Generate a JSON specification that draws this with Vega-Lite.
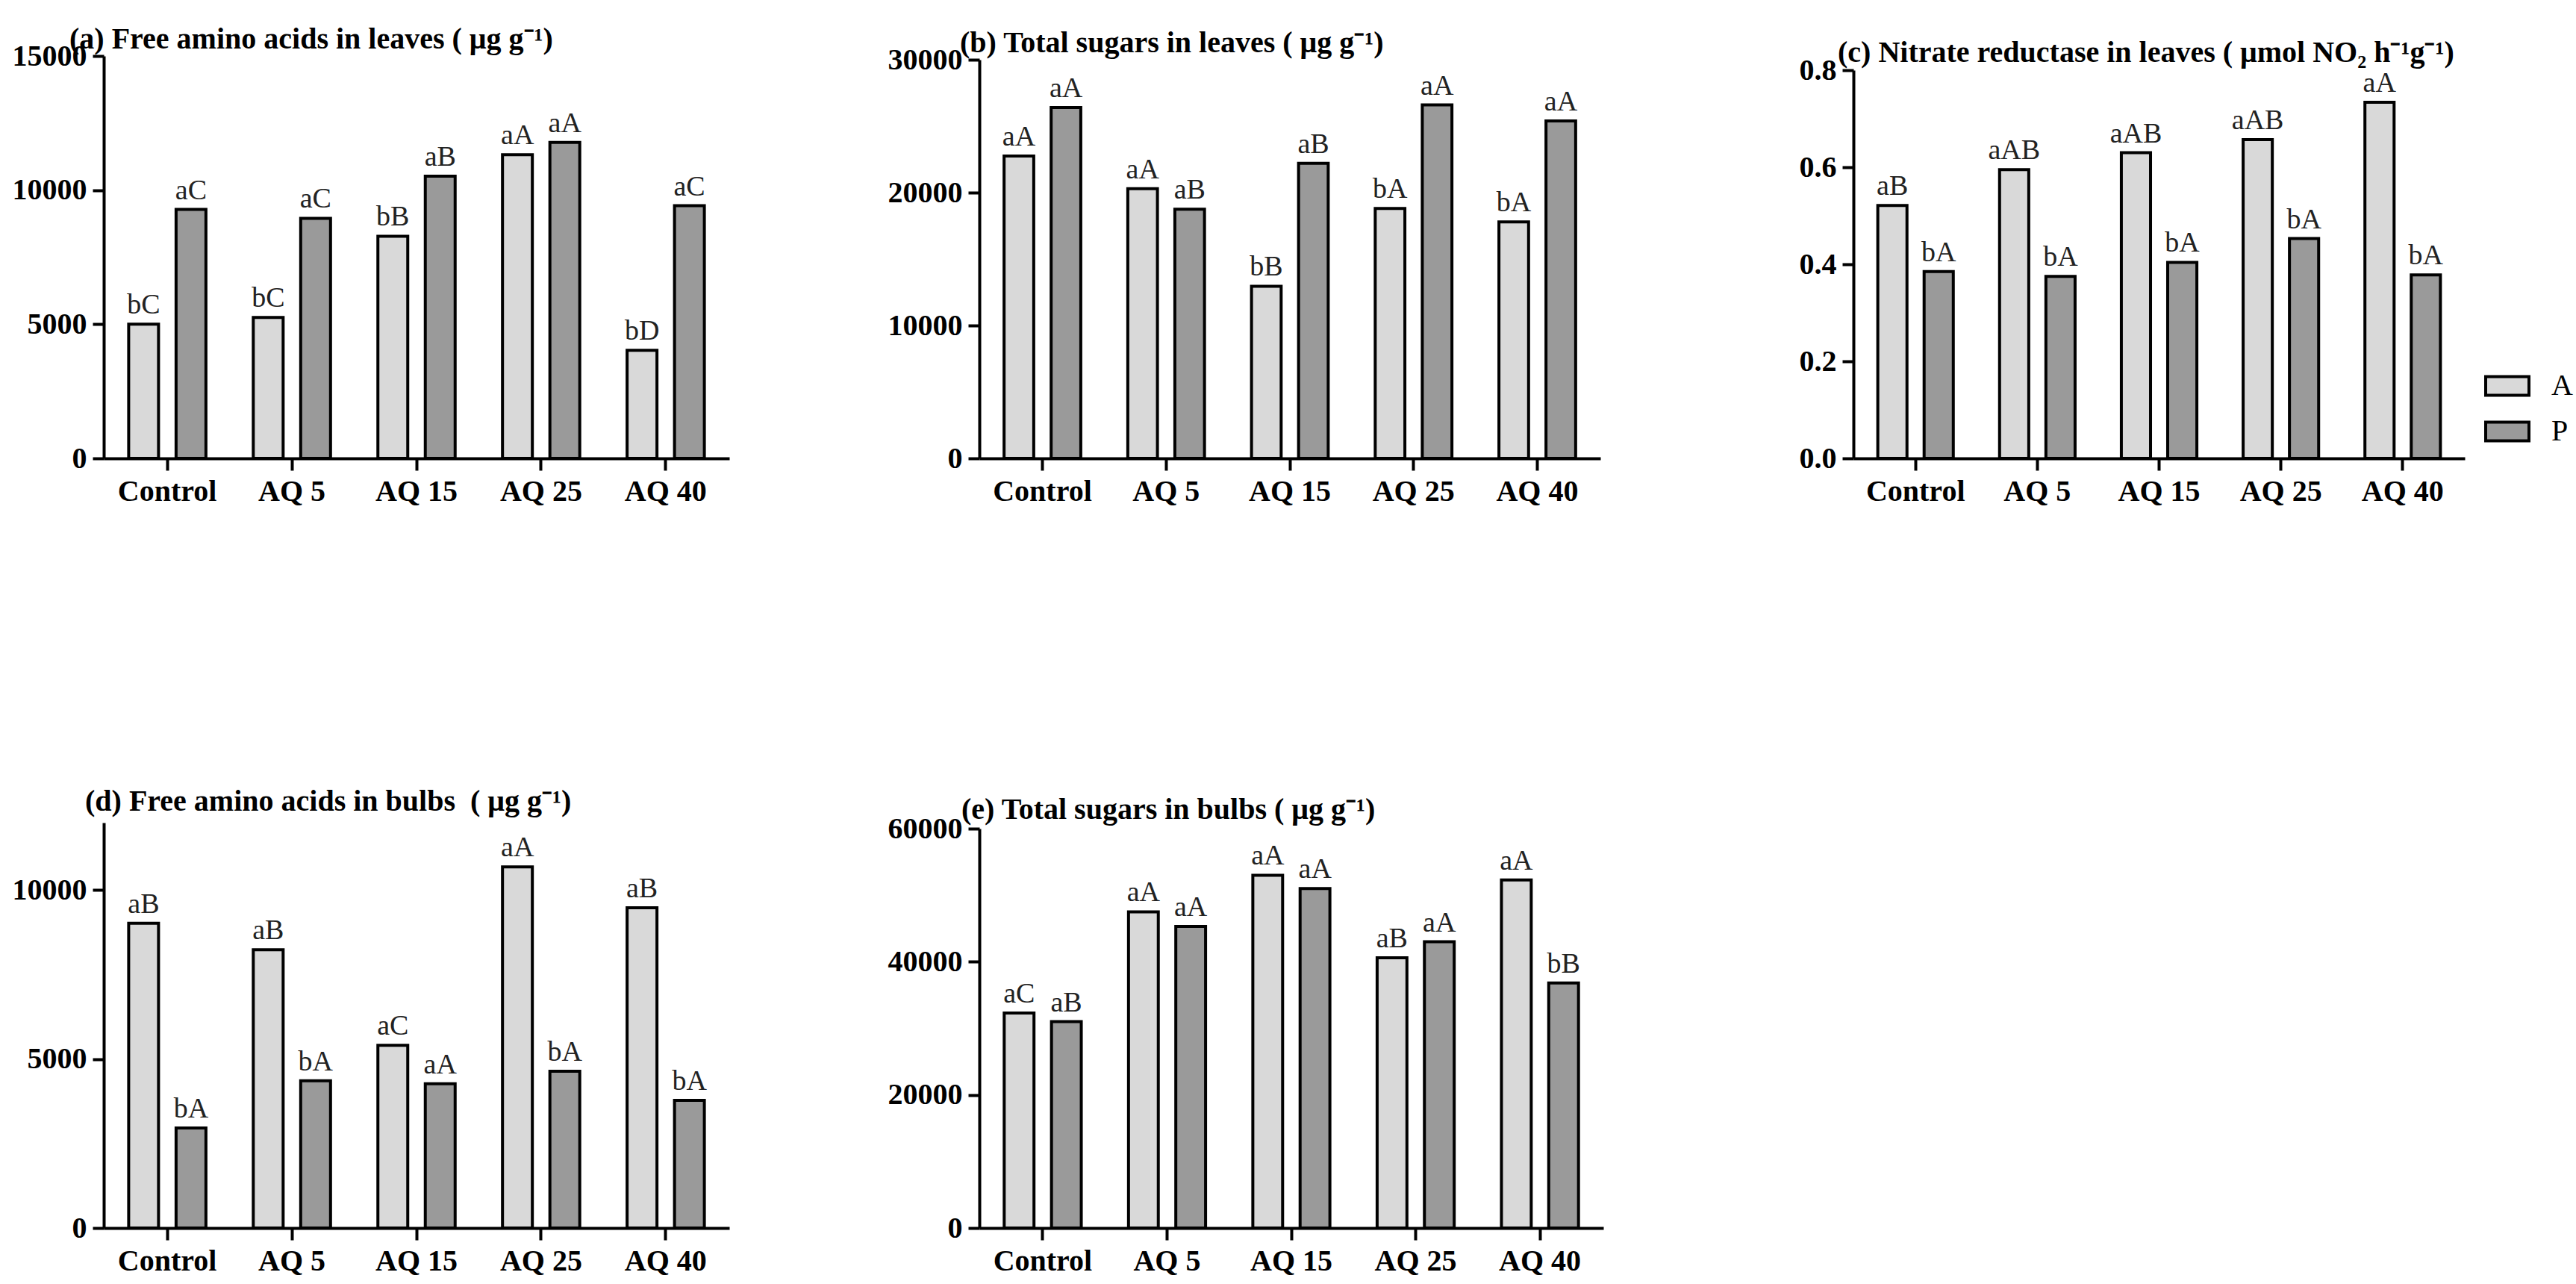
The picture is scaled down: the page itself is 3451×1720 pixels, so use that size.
{
  "$schema": "https://vega.github.io/schema/vega-lite/v6.json",
  "background": "white",
  "padding": {"left": 16, "top": 33, "right": 5, "bottom": 0},
  "autosize": {"type": "pad"},
  "bounds": "flush",
  "align": "each",
  "columns": 3,
  "spacing": {"row": 488, "column": 335},
  "config": {
    "view": {"stroke": null},
    "font": "Liberation Serif",
    "title": {"font": "Liberation Serif", "fontSize": 40, "fontWeight": "bold", "anchor": "start", "frame": "group", "baseline": "alphabetic", "color": "black"},
    "axis": {"domainColor": "black", "domainWidth": 4, "tickColor": "black", "tickWidth": 4, "tickSize": 15, "labelFont": "Liberation Serif", "labelFontSize": 40, "labelFontWeight": "bold", "labelColor": "black", "grid": false, "labelPadding": 8, "labelOverlap": false, "labelBound": false, "title": null},
    "axisX": {"labelAngle": 0, "tickSize": 16},
    "bar": {"stroke": "black", "strokeWidth": 4},
    "text": {"font": "Liberation Serif", "fontSize": 38, "color": "#222", "baseline": "alphabetic", "dy": -14}
  },
  "datasets": {
    "d": [
      {"panel": "a", "treatment": "Control", "group": "A", "value": 5000, "label": "bC"},
      {"panel": "a", "treatment": "Control", "group": "P", "value": 9280, "label": "aC"},
      {"panel": "a", "treatment": "AQ 5", "group": "A", "value": 5250, "label": "bC"},
      {"panel": "a", "treatment": "AQ 5", "group": "P", "value": 8950, "label": "aC"},
      {"panel": "a", "treatment": "AQ 15", "group": "A", "value": 8280, "label": "bB"},
      {"panel": "a", "treatment": "AQ 15", "group": "P", "value": 10520, "label": "aB"},
      {"panel": "a", "treatment": "AQ 25", "group": "A", "value": 11320, "label": "aA"},
      {"panel": "a", "treatment": "AQ 25", "group": "P", "value": 11780, "label": "aA"},
      {"panel": "a", "treatment": "AQ 40", "group": "A", "value": 4030, "label": "bD"},
      {"panel": "a", "treatment": "AQ 40", "group": "P", "value": 9420, "label": "aC"},

      {"panel": "b", "treatment": "Control", "group": "A", "value": 22750, "label": "aA"},
      {"panel": "b", "treatment": "Control", "group": "P", "value": 26400, "label": "aA"},
      {"panel": "b", "treatment": "AQ 5", "group": "A", "value": 20300, "label": "aA"},
      {"panel": "b", "treatment": "AQ 5", "group": "P", "value": 18750, "label": "aB"},
      {"panel": "b", "treatment": "AQ 15", "group": "A", "value": 12950, "label": "bB"},
      {"panel": "b", "treatment": "AQ 15", "group": "P", "value": 22200, "label": "aB"},
      {"panel": "b", "treatment": "AQ 25", "group": "A", "value": 18800, "label": "bA"},
      {"panel": "b", "treatment": "AQ 25", "group": "P", "value": 26600, "label": "aA"},
      {"panel": "b", "treatment": "AQ 40", "group": "A", "value": 17800, "label": "bA"},
      {"panel": "b", "treatment": "AQ 40", "group": "P", "value": 25400, "label": "aA"},

      {"panel": "c", "treatment": "Control", "group": "A", "value": 0.521, "label": "aB"},
      {"panel": "c", "treatment": "Control", "group": "P", "value": 0.385, "label": "bA"},
      {"panel": "c", "treatment": "AQ 5", "group": "A", "value": 0.595, "label": "aAB"},
      {"panel": "c", "treatment": "AQ 5", "group": "P", "value": 0.375, "label": "bA"},
      {"panel": "c", "treatment": "AQ 15", "group": "A", "value": 0.630, "label": "aAB"},
      {"panel": "c", "treatment": "AQ 15", "group": "P", "value": 0.404, "label": "bA"},
      {"panel": "c", "treatment": "AQ 25", "group": "A", "value": 0.657, "label": "aAB"},
      {"panel": "c", "treatment": "AQ 25", "group": "P", "value": 0.453, "label": "bA"},
      {"panel": "c", "treatment": "AQ 40", "group": "A", "value": 0.734, "label": "aA"},
      {"panel": "c", "treatment": "AQ 40", "group": "P", "value": 0.378, "label": "bA"},

      {"panel": "d", "treatment": "Control", "group": "A", "value": 9020, "label": "aB"},
      {"panel": "d", "treatment": "Control", "group": "P", "value": 2960, "label": "bA"},
      {"panel": "d", "treatment": "AQ 5", "group": "A", "value": 8240, "label": "aB"},
      {"panel": "d", "treatment": "AQ 5", "group": "P", "value": 4360, "label": "bA"},
      {"panel": "d", "treatment": "AQ 15", "group": "A", "value": 5410, "label": "aC"},
      {"panel": "d", "treatment": "AQ 15", "group": "P", "value": 4270, "label": "aA"},
      {"panel": "d", "treatment": "AQ 25", "group": "A", "value": 10690, "label": "aA"},
      {"panel": "d", "treatment": "AQ 25", "group": "P", "value": 4640, "label": "bA"},
      {"panel": "d", "treatment": "AQ 40", "group": "A", "value": 9480, "label": "aB"},
      {"panel": "d", "treatment": "AQ 40", "group": "P", "value": 3780, "label": "bA"},

      {"panel": "e", "treatment": "Control", "group": "A", "value": 32300, "label": "aC"},
      {"panel": "e", "treatment": "Control", "group": "P", "value": 31000, "label": "aB"},
      {"panel": "e", "treatment": "AQ 5", "group": "A", "value": 47500, "label": "aA"},
      {"panel": "e", "treatment": "AQ 5", "group": "P", "value": 45300, "label": "aA"},
      {"panel": "e", "treatment": "AQ 15", "group": "A", "value": 53000, "label": "aA"},
      {"panel": "e", "treatment": "AQ 15", "group": "P", "value": 51000, "label": "aA"},
      {"panel": "e", "treatment": "AQ 25", "group": "A", "value": 40600, "label": "aB"},
      {"panel": "e", "treatment": "AQ 25", "group": "P", "value": 43000, "label": "aA"},
      {"panel": "e", "treatment": "AQ 40", "group": "A", "value": 52300, "label": "aA"},
      {"panel": "e", "treatment": "AQ 40", "group": "P", "value": 36800, "label": "bB"}
    ]
  },
  "resolve": {"scale": {"x": "independent", "y": "independent", "xOffset": "independent", "fill": "independent"}, "legend": {"fill": "independent"}, "axis": {"x": "independent", "y": "independent"}},
  "concat": [
    {
      "width": 838, "height": 539,
      "data": {"name": "d"},
      "title": {"text": "(a) Free amino acids in leaves ( μg g⁻¹)", "offset": -18, "dx": -46},
      "transform": [{"filter": "datum.panel == 'a'"}],
      "encoding": {
        "x": {"field": "treatment", "type": "nominal", "sort": ["Control", "AQ 5", "AQ 15", "AQ 25", "AQ 40"], "scale": {"paddingInner": 0.38, "paddingOuter": 0.2}},
        "xOffset": {"field": "group", "type": "nominal", "sort": ["A", "P"], "scale": {"paddingInner": 0.37, "paddingOuter": 0}},
        "y": {"field": "value", "type": "quantitative", "scale": {"domain": [0, 15000], "nice": false}, "axis": {"values": [0, 5000, 10000, 15000], "format": "d"}}
      },
      "layer": [
        {"mark": {"type": "bar"}, "encoding": {"fill": {"field": "group", "type": "nominal", "scale": {"domain": ["A", "P"], "range": ["#d9d9d9", "#9a9a9a"]}, "legend": null}}},
        {"mark": {"type": "text"}, "encoding": {"text": {"field": "label"}}}
      ]
    },
    {
      "width": 832, "height": 539,
      "data": {"name": "d"},
      "title": {"text": "(b) Total sugars in leaves ( μg g⁻¹)", "offset": -18, "dx": -26},
      "transform": [{"filter": "datum.panel == 'b'"}],
      "encoding": {
        "x": {"field": "treatment", "type": "nominal", "sort": ["Control", "AQ 5", "AQ 15", "AQ 25", "AQ 40"], "scale": {"paddingInner": 0.38, "paddingOuter": 0.2}},
        "xOffset": {"field": "group", "type": "nominal", "sort": ["A", "P"], "scale": {"paddingInner": 0.37, "paddingOuter": 0}},
        "y": {"field": "value", "type": "quantitative", "scale": {"domain": [0, 30000], "nice": false, "range": [539, 5]}, "axis": {"values": [0, 10000, 20000, 30000], "format": "d"}}
      },
      "layer": [
        {"mark": {"type": "bar"}, "encoding": {"fill": {"field": "group", "type": "nominal", "scale": {"domain": ["A", "P"], "range": ["#d9d9d9", "#9a9a9a"]}, "legend": null}}},
        {"mark": {"type": "text"}, "encoding": {"text": {"field": "label"}}}
      ]
    },
    {
      "width": 819, "height": 539,
      "data": {"name": "d"},
      "title": {"text": "(c) Nitrate reductase in leaves ( μmol NO₂ h⁻¹g⁻¹)", "offset": -17, "dx": -21},
      "transform": [{"filter": "datum.panel == 'c'"}],
      "encoding": {
        "x": {"field": "treatment", "type": "nominal", "sort": ["Control", "AQ 5", "AQ 15", "AQ 25", "AQ 40"], "scale": {"paddingInner": 0.38, "paddingOuter": 0.2}},
        "xOffset": {"field": "group", "type": "nominal", "sort": ["A", "P"], "scale": {"paddingInner": 0.37, "paddingOuter": 0}},
        "y": {"field": "value", "type": "quantitative", "scale": {"domain": [0, 0.8], "nice": false, "range": [539, 19]}, "axis": {"values": [0, 0.2, 0.4, 0.6, 0.8], "format": ".1f"}}
      },
      "layer": [
        {"mark": {"type": "bar"}, "encoding": {"fill": {"field": "group", "type": "nominal", "scale": {"domain": ["A", "P"], "range": ["#d9d9d9", "#9a9a9a"]}, "legend": {"title": null, "orient": "none", "legendX": 845, "legendY": 411, "padding": 0, "symbolType": "M-1,-0.43L1,-0.43L1,0.43L-1,0.43Z", "symbolSize": 3364, "symbolStrokeColor": "black", "symbolStrokeWidth": 4, "symbolOpacity": 1, "labelFont": "Liberation Serif", "labelFontSize": 40, "labelFontWeight": "normal", "labelColor": "black", "labelOffset": 28, "rowPadding": 9}}}},
        {"mark": {"type": "text"}, "encoding": {"text": {"field": "label"}}}
      ]
    },
    {
      "width": 838, "height": 543,
      "data": {"name": "d"},
      "title": {"text": "(d) Free amino acids in bulbs\u00a0 ( μg g⁻¹)", "offset": 8, "dx": -25},
      "transform": [{"filter": "datum.panel == 'd'"}],
      "encoding": {
        "x": {"field": "treatment", "type": "nominal", "sort": ["Control", "AQ 5", "AQ 15", "AQ 25", "AQ 40"], "scale": {"paddingInner": 0.38, "paddingOuter": 0.2}},
        "xOffset": {"field": "group", "type": "nominal", "sort": ["A", "P"], "scale": {"paddingInner": 0.37, "paddingOuter": 0}},
        "y": {"field": "value", "type": "quantitative", "scale": {"domain": [0, 12000], "nice": false}, "axis": {"values": [0, 5000, 10000], "format": "d"}}
      },
      "layer": [
        {"mark": {"type": "bar"}, "encoding": {"fill": {"field": "group", "type": "nominal", "scale": {"domain": ["A", "P"], "range": ["#d9d9d9", "#9a9a9a"]}, "legend": null}}},
        {"mark": {"type": "text"}, "encoding": {"text": {"field": "label"}}}
      ]
    },
    {
      "width": 836, "height": 543,
      "data": {"name": "d"},
      "title": {"text": "(e) Total sugars in bulbs ( μg g⁻¹)", "offset": -15, "dx": -24},
      "transform": [{"filter": "datum.panel == 'e'"}],
      "encoding": {
        "x": {"field": "treatment", "type": "nominal", "sort": ["Control", "AQ 5", "AQ 15", "AQ 25", "AQ 40"], "scale": {"paddingInner": 0.38, "paddingOuter": 0.2}},
        "xOffset": {"field": "group", "type": "nominal", "sort": ["A", "P"], "scale": {"paddingInner": 0.37, "paddingOuter": 0}},
        "y": {"field": "value", "type": "quantitative", "scale": {"domain": [0, 60000], "nice": false, "range": [543, 8]}, "axis": {"values": [0, 20000, 40000, 60000], "format": "d"}}
      },
      "layer": [
        {"mark": {"type": "bar"}, "encoding": {"fill": {"field": "group", "type": "nominal", "scale": {"domain": ["A", "P"], "range": ["#d9d9d9", "#9a9a9a"]}, "legend": null}}},
        {"mark": {"type": "text"}, "encoding": {"text": {"field": "label"}}}
      ]
    }
  ]
}
